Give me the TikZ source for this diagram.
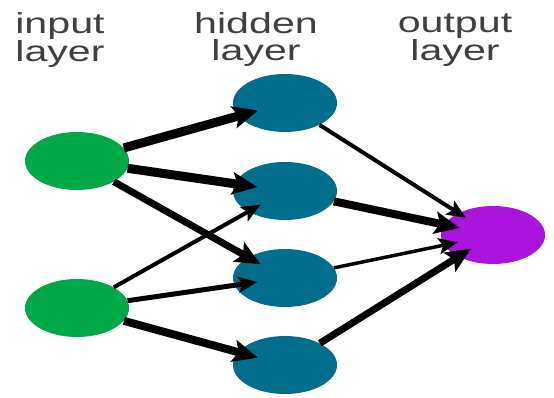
\documentclass[tikz,border=0pt]{standalone}
\usepackage{fontspec}
\usepackage{graphicx}
\setmainfont{Liberation Sans}
\usetikzlibrary{shapes.geometric,arrows.meta}
\definecolor{ingreen}{RGB}{0,168,72}
\definecolor{hidteal}{RGB}{0,110,140}
\definecolor{outpurple}{RGB}{170,20,220}
\definecolor{labgray}{RGB}{64,64,64}
\newcommand\sx[1]{\scalebox{1.42}[1]{#1}}
\begin{document}
\begin{tikzpicture}[x=1pt,y=-1pt,
  neuron/.style={ellipse,minimum width=104pt,minimum height=58pt,inner sep=0pt,draw=none},
  inp/.style={neuron,fill=ingreen},
  hid/.style={neuron,fill=hidteal},
  outn/.style={neuron,fill=outpurple},
  lab/.style={align=center,text=labgray,font=\fontsize{29}{27}\selectfont,inner sep=0pt},
  conn/.style={line width=#1,draw=black,-{Stealth[length=25pt,width=22pt,inset=5pt]},shorten >=28pt},
  thinconn/.style={line width=#1,draw=black,-{Stealth[length=19pt,width=16pt,inset=4pt]},shorten >=28pt}]
\useasboundingbox (0,0) rectangle (554,398);
\node[lab] (l1) at (60,40) {\sx{input}\\\sx{layer}};
\node[lab] (l2) at (256,40) {\sx{hidden}\\\sx{layer}};
\node[lab] (l3) at (455,40) {\sx{output}\\\sx{layer}};
\node[inp] (i1) at (77,161) {};
\node[inp] (i2) at (77,308) {};
\node[hid] (h1) at (285,103) {};
\node[hid] (h2) at (285,191) {};
\node[hid] (h3) at (285,278) {};
\node[hid] (h4) at (285,365) {};
\node[outn] (o) at (493,235) {};
\draw[conn=9pt] (i1) -- (h1.center);
\draw[conn=9pt] (i1) -- (h2.center);
\draw[conn=7pt] (i1) -- (h3.center);
\draw[thinconn=4pt] (i2) -- (h2.center);
\draw[thinconn=5pt] (i2) -- (h3.center);
\draw[conn=8pt] (i2) -- (h4.center);
\draw[thinconn=4pt,shorten >=32pt] (h1) -- (o.center);
\draw[conn=8pt,shorten >=34pt] (h2) -- (o.center);
\draw[thinconn=3.5pt,shorten >=36pt] (h3) -- (o.center);
\draw[conn=7pt,shorten >=26pt] (h4) -- (o.center);
\end{tikzpicture}
\end{document}
